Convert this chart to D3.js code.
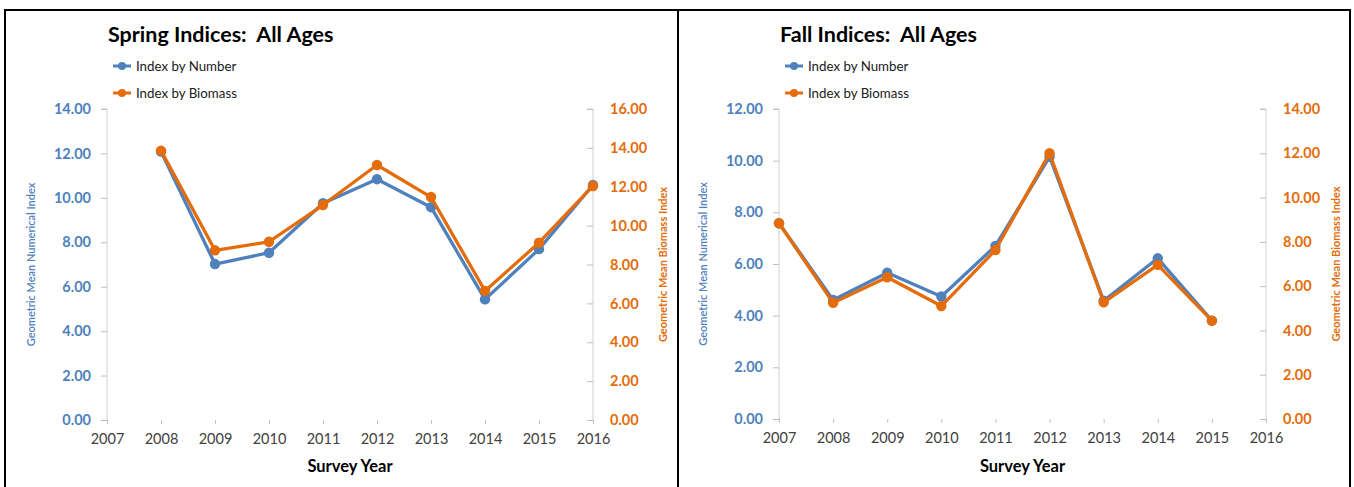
<!DOCTYPE html>
<html>
<head>
<meta charset="utf-8">
<script src="https://cdn.jsdelivr.net/npm/d3@7"></script>
<style>
  html, body { margin: 0; padding: 0; background: #fff; }
  svg { display: block; font-family: Lato, "Open Sans", sans-serif; }
  .title { white-space: pre; }
</style>
</head>
<body>
<svg id="chart" width="1354" height="487"></svg>
<script>
// Survey years shown on each x axis
const springYears = [2008, 2009, 2010, 2011, 2012, 2013, 2014, 2015, 2016];
const fallYears = [2007, 2008, 2009, 2010, 2011, 2012, 2013, 2014, 2015];
const springDomain = [2007, 2016];
const fallDomain = [2007, 2016];

// Geometric mean indices
const springNumber = [12.08, 7.02, 7.53, 9.76, 10.84, 9.58, 5.43, 7.69, 10.58];
const springBiomass = [13.86, 8.73, 9.17, 11.06, 13.12, 11.47, 6.64, 9.12, 12.04];
const fallNumber = [7.58, 4.61, 5.66, 4.74, 6.70, 10.15, 4.58, 6.22, 3.81];
const fallBiomass = [8.84, 5.25, 6.40, 5.10, 7.63, 12.00, 5.27, 6.96, 4.44];

// Axis tick values
const springLeftTicks = [0, 2, 4, 6, 8, 10, 12, 14];
const springRightTicks = [0, 2, 4, 6, 8, 10, 12, 14, 16];
const fallLeftTicks = [0, 2, 4, 6, 8, 10, 12];
const fallRightTicks = [0, 2, 4, 6, 8, 10, 12, 14];

const seriesNames = ["Index by Number", "Index by Biomass"];

const BLUE = "#4F81BD";
const ORANGE = "#E46C0A";
const AXIS = "#d0d0d0";

const svg = d3.select("#chart");

function drawPanel(p) {
  const g = svg.append("g").attr("transform", `translate(${p.x},0)`);

  // panel frame
  g.append("rect")
    .attr("x", 0).attr("y", 10)
    .attr("width", p.w).attr("height", 500)
    .attr("fill", "none").attr("stroke", "#000").attr("stroke-width", 2);

  const x = d3.scaleLinear().domain(p.domain).range([p.left, p.right]);
  const yL = d3.scaleLinear().domain([0, d3.max(p.leftTicks)]).range([p.bottom, p.top]);
  const yR = d3.scaleLinear().domain([0, d3.max(p.rightTicks)]).range([p.bottom, p.top]);

  // title
  g.append("text")
    .attr("class", "title")
    .attr("x", p.left + 1).attr("y", 42)
    .attr("font-size", 21.5).attr("font-weight", 700).attr("fill", "#000")
    .text(p.title);

  // left axis
  const axL = d3.axisLeft(yL).tickValues(p.leftTicks).tickFormat(d3.format(".2f")).tickSize(6).tickPadding(10);
  const gL = g.append("g").attr("transform", `translate(${p.left},0)`).call(axL);
  gL.select(".domain").attr("stroke", AXIS).attr("d", `M-6,${p.top}H0V${p.bottom}`);
  gL.selectAll(".tick line").attr("stroke", "#bfbfbf");
  gL.selectAll(".tick text").attr("fill", BLUE).attr("font-size", 14.5).attr("font-weight", 700)
    .attr("font-family", "Lato, sans-serif");

  // right axis
  const axR = d3.axisRight(yR).tickValues(p.rightTicks).tickFormat(d3.format(".2f")).tickSize(0).tickPadding(17);
  const gR = g.append("g").attr("transform", `translate(${p.right},0)`).call(axR);
  gR.select(".domain").attr("stroke", AXIS).attr("d", `M-6,${p.top}H0V${p.bottom}`);
  gR.selectAll(".tick").append("line").attr("x1", -6).attr("x2", 0).attr("stroke", "#bfbfbf");
  gR.selectAll(".tick text").attr("fill", ORANGE).attr("font-size", 14.5).attr("font-weight", 700)
    .attr("font-family", "Lato, sans-serif");

  // bottom axis: labels and small tick marks only
  const years = d3.range(p.domain[0], p.domain[1] + 1);
  const axB = d3.axisBottom(x).tickValues(years).tickFormat(d3.format("d")).tickSize(4).tickPadding(10);
  const gB = g.append("g").attr("transform", `translate(0,${p.bottom})`).call(axB);
  gB.select(".domain").remove();
  gB.selectAll(".tick line").attr("stroke", "#bfbfbf");
  gB.selectAll(".tick text").attr("fill", "#404040").attr("font-size", 14.5)
    .attr("font-family", "Lato, sans-serif");

  // axis titles
  g.append("text")
    .attr("transform", `translate(${p.left - 76},${(p.top + p.bottom) / 2}) rotate(-90)`)
    .attr("text-anchor", "middle").attr("dy", "0.35em")
    .attr("font-size", 11).attr("font-weight", 600).attr("fill", BLUE)
    .text("Geometric Mean Numerical Index");
  g.append("text")
    .attr("transform", `translate(${p.right + 70},${(p.top + p.bottom) / 2}) rotate(-90)`)
    .attr("text-anchor", "middle").attr("dy", "0.35em")
    .attr("font-size", 11).attr("font-weight", 700).attr("fill", ORANGE)
    .text("Geometric Mean Biomass Index");
  g.append("text")
    .attr("x", (p.left + p.right) / 2).attr("y", 472)
    .attr("text-anchor", "middle")
    .attr("font-size", 16.5).attr("font-weight", 700).attr("fill", "#000")
    .text("Survey Year");

  // series
  const series = [
    { vals: p.number, y: yL, color: BLUE },
    { vals: p.biomass, y: yR, color: ORANGE }
  ];
  series.forEach(s => {
    const pts = p.years.map((yr, i) => [yr, s.vals[i]]);
    const line = d3.line().x(d => x(d[0])).y(d => s.y(d[1]));
    g.append("path").datum(pts)
      .attr("d", line).attr("fill", "none")
      .attr("stroke", s.color).attr("stroke-width", 3.3).attr("stroke-linejoin", "round");
    g.selectAll(null).data(pts).enter().append("circle")
      .attr("cx", d => x(d[0])).attr("cy", d => s.y(d[1]))
      .attr("r", 5.2).attr("fill", s.color);
  });

  // legend
  const lg = g.append("g").attr("transform", `translate(${p.left + 6},0)`);
  [BLUE, ORANGE].forEach((c, i) => {
    const yy = 66 + i * 27;
    lg.append("line").attr("x1", 0).attr("x2", 18).attr("y1", yy).attr("y2", yy)
      .attr("stroke", c).attr("stroke-width", 3);
    lg.append("circle").attr("cx", 9).attr("cy", yy).attr("r", 4).attr("fill", c);
    lg.append("text").attr("x", 23).attr("y", yy).attr("dy", "0.35em")
      .attr("font-size", 13.3).attr("fill", "#202020")
      .text(seriesNames[i]);
  });
}

drawPanel({
  x: 5, w: 673, left: 102, right: 588, top: 109, bottom: 420,
  title: "Spring Indices:  All Ages",
  domain: springDomain, years: springYears,
  number: springNumber, biomass: springBiomass,
  leftTicks: springLeftTicks, rightTicks: springRightTicks
});

drawPanel({
  x: 678, w: 672, left: 101, right: 588, top: 109, bottom: 419,
  title: "Fall Indices:  All Ages",
  domain: fallDomain, years: fallYears,
  number: fallNumber, biomass: fallBiomass,
  leftTicks: fallLeftTicks, rightTicks: fallRightTicks
});
</script>
</body>
</html>
